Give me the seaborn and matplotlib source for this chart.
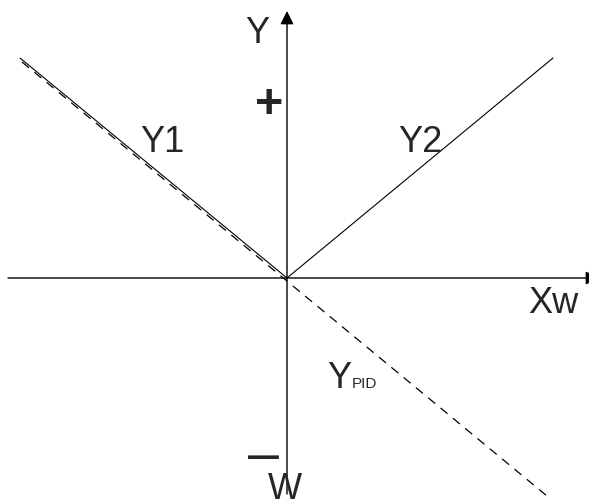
import numpy as np
import matplotlib
matplotlib.use('Agg')
import matplotlib.pyplot as plt
import seaborn as sns
import pandas as pd

# line data (origin = crossing of the axes, units ~ pixels)
y1_x = [-267, 0]
y1_y = [220, 0]
y2_x = [0, 266]
y2_y = [0, 220]
ypid_x = [-265, 260]
ypid_y = [216, -218]

sns.set_theme(style='white')
plt.rcParams['font.family'] = ['Liberation Sans', 'DejaVu Sans']
plt.rcParams['lines.scale_dashes'] = False

fig = plt.figure(figsize=(5.89, 5.02), dpi=100)
ax = fig.add_axes([0, 0, 1, 1])
ax.set_xlim(-287, 302)
ax.set_ylim(-223, 279)
ax.axis('off')

df1 = pd.DataFrame({'x': y1_x, 'y': y1_y})
df2 = pd.DataFrame({'x': y2_x, 'y': y2_y})
dfp = pd.DataFrame({'x': ypid_x, 'y': ypid_y})
sns.lineplot(data=df1, x='x', y='y', color='black', lw=0.8, ax=ax)
sns.lineplot(data=df2, x='x', y='y', color='black', lw=0.8, ax=ax)
sns.lineplot(data=dfp, x='x', y='y', color='black', lw=0.9, dashes=False, ax=ax,
             linestyle=(0, (6.5, 5)))
ax.axis('off')

# axes with arrows
ax.annotate('', xy=(312, 0), xytext=(-279, 0), annotation_clip=False,
            arrowprops=dict(arrowstyle='-|>', color='black', lw=1.0,
                            mutation_scale=20, shrinkA=0, shrinkB=0))
ax.annotate('', xy=(0, 267), xytext=(0, -216), annotation_clip=False,
            arrowprops=dict(arrowstyle='-|>', color='black', lw=1.0,
                            mutation_scale=20, shrinkA=0, shrinkB=0))

fs = 26
ax.text(-42, 236, 'Y', fontsize=fs, ha='left', va='baseline')
ax.text(-147, 127, 'Y1', fontsize=fs, ha='left', va='baseline')
ax.text(111, 127, 'Y2', fontsize=fs, ha='left', va='baseline')
ax.text(241, -34, 'Xw', fontsize=fs, ha='left', va='baseline')
ax.text(-19, -220, 'W', fontsize=fs, ha='left', va='baseline')
ax.text(40, -109, 'Y', fontsize=fs, ha='left', va='baseline')
ax.text(65, -109, 'PID', fontsize=11, ha='left', va='baseline')
ax.text(-18, 173, '+', fontsize=35, fontweight='bold', ha='center', va='center')
ax.text(-24, -178, '\u2013', fontsize=40, ha='center', va='center')

fig.savefig('out.png', dpi=100)
